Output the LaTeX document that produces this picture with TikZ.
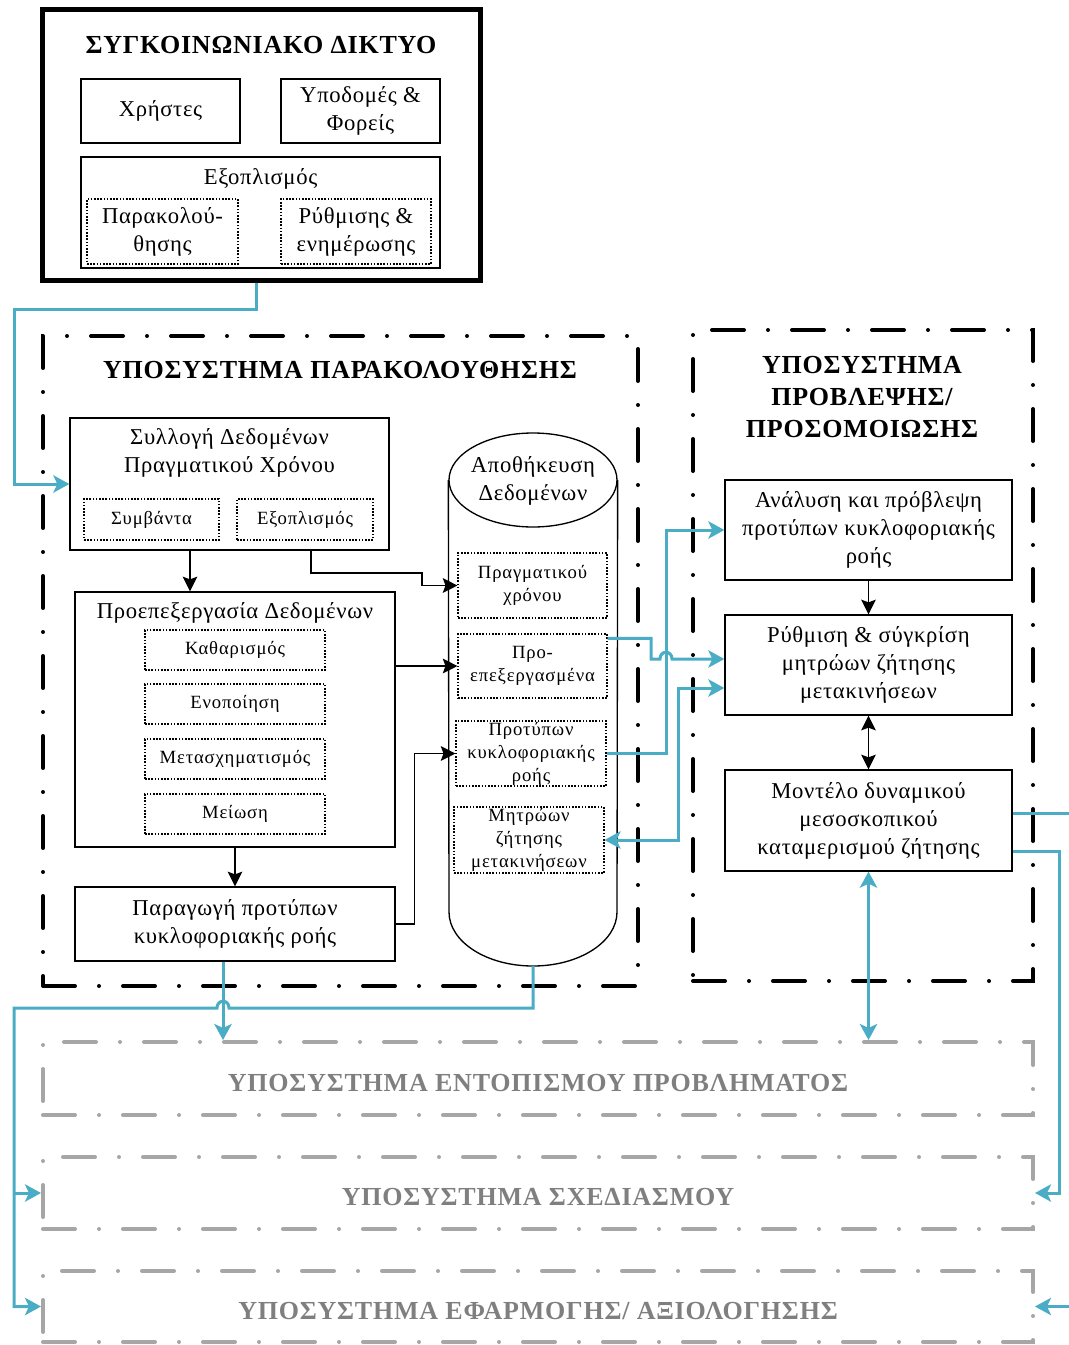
\documentclass[tikz,border=0pt]{standalone}
\usepackage{fontspec}
\setmainfont{Liberation Serif}[LetterSpace=3]
\newfontfamily\smallfam{Liberation Serif}[LetterSpace=4.5]
\usetikzlibrary{arrows.meta,shapes.geometric,calc}
\definecolor{linkblue}{HTML}{4BACC6}
\definecolor{framegray}{HTML}{A6A6A6}
\definecolor{textgray}{HTML}{7F7F7F}
\newcommand\mybody{\fontsize{17}{21}\selectfont}
\newcommand\mysmall{\smallfam\fontsize{14}{17.25}\selectfont}
\newcommand\mytitle{\fontsize{19.5}{24}\selectfont\bfseries}

\begin{document}
\begin{tikzpicture}[x=0.75pt,y=-0.75pt,
  box/.style={draw,line width=1pt,inner sep=0pt,font=\mybody,align=center},
  subbox/.style={draw,line width=0.8pt,dash pattern=on 1.2pt off 1.2pt,inner sep=0pt,font=\mysmall,align=center},
  bigsub/.style={subbox,font=\mybody},
  frame/.style={draw,line width=3pt,line cap=round,dash pattern=on 24pt off 18pt on 0pt off 18pt,inner sep=0pt},
  grayframe/.style={frame,draw=framegray,font=\mytitle,text=textgray},
  txt/.style={font=\mybody,align=center,inner sep=0pt},
  ttl/.style={font=\mytitle,align=center,inner sep=0pt},
  ar/.style={line width=1pt,-{Stealth[length=11pt,width=11pt,inset=2pt]}},
  bl/.style={draw=linkblue,line width=2.25pt},
  bltip/.tip={Stealth[length=12pt,width=13pt,inset=3pt]}
]
\useasboundingbox (0,0) rectangle (1069,1345);

% ---------- transport network ----------
\node[draw,line width=3.75pt,minimum width=328.5pt,minimum height=202.5pt] (net) at (261,145) {};
\node[ttl] (nettitle) at (261,45) {ΣΥΓΚΟΙΝΩΝΙΑΚΟ ΔΙΚΤΥΟ};
\node[box,minimum width=119.25pt,minimum height=48pt] (users) at (160.5,111) {Χρήστες};
\node[box,minimum width=119.25pt,minimum height=48pt] (infra) at (360.5,111) {Υποδομές \&\\Φορείς};
\node[box,minimum width=269.25pt,minimum height=83.25pt] (equip) at (260.5,212.5) {};
\node[txt] (equiptxt) at (260.5,179) {Εξοπλισμός};
\node[bigsub,minimum width=113.25pt,minimum height=48.75pt] (monit) at (162.5,231.5) {Παρακολού-\\θησης};
\node[bigsub,minimum width=112.5pt,minimum height=48.75pt] (regul) at (356,231.5) {Ρύθμισης \&\\ενημέρωσης};

% ---------- subsystem frames ----------
\node[frame,minimum width=446.25pt,minimum height=487.5pt] (monf) at (340.5,661) {};
\node[ttl] (montitle) at (340,370) {ΥΠΟΣΥΣΤΗΜΑ ΠΑΡΑΚΟΛΟΥΘΗΣΗΣ};
\node[frame,minimum width=255pt,minimum height=488.25pt] (predf) at (863,655.5) {};
\node[ttl] (predtitle) at (862,397) {ΥΠΟΣΥΣΤΗΜΑ\\ΠΡΟΒΛΕΨΗΣ/\\ΠΡΟΣΟΜΟΙΩΣΗΣ};

\node[grayframe,minimum width=742.5pt,minimum height=54.75pt] (g1) at (538,1078.5) {};
\node[ttl,text=textgray] (g1t) at (538,1083) {ΥΠΟΣΥΣΤΗΜΑ ΕΝΤΟΠΙΣΜΟΥ ΠΡΟΒΛΗΜΑΤΟΣ};
\node[grayframe,minimum width=742.5pt,minimum height=54pt] (g2) at (538,1193) {};
\node[ttl,text=textgray] (g2t) at (538,1197) {ΥΠΟΣΥΣΤΗΜΑ ΣΧΕΔΙΑΣΜΟΥ};
\node[grayframe,minimum width=742.5pt,minimum height=53.25pt] (g3) at (538,1306.5) {};
\node[ttl,text=textgray] (g3t) at (538,1311) {ΥΠΟΣΥΣΤΗΜΑ ΕΦΑΡΜΟΓΗΣ/ ΑΞΙΟΛΟΓΗΣΗΣ};

% ---------- monitoring subsystem ----------
\node[box,minimum width=239.25pt,minimum height=99pt] (coll) at (229.5,484) {};
\node[txt] (colltxt) at (229.5,453) {Συλλογή Δεδομένων\\Πραγματικού Χρόνου};
\node[subbox,minimum width=101.25pt,minimum height=30.75pt] (events) at (151.5,519.5) {Συμβάντα};
\node[subbox,minimum width=102pt,minimum height=30.75pt] (sensors) at (305,519.5) {Εξοπλισμός};

\node[box,minimum width=240pt,minimum height=191.25pt] (pre) at (235,719.5) {};
\node[txt] (pretxt) at (235,613) {Προεπεξεργασία Δεδομένων};
\node[subbox,minimum width=135pt,minimum height=30pt] (clean) at (235,650) {Καθαρισμός};
\node[subbox,minimum width=135pt,minimum height=30pt] (integ) at (235,704) {Ενοποίηση};
\node[subbox,minimum width=135pt,minimum height=30pt] (trans) at (235,759) {Μετασχηματισμός};
\node[subbox,minimum width=135pt,minimum height=30pt] (reduc) at (235,814) {Μείωση};

\node[box,minimum width=240pt,minimum height=55.5pt] (gen) at (235,924) {Παραγωγή προτύπων\\κυκλοφοριακής ροής};

% data store (cylinder)
\node[draw,ellipse,line width=1pt,minimum width=126pt,minimum height=70.5pt,inner sep=0pt] (store) at (533,480) {};
\node[txt] (storetxt) at (533,481) {Αποθήκευση\\Δεδομένων};
\draw[line width=1pt] (store.west) -- (449,912) .. controls (449,941.8) and (486.6,966) .. (533,966)
      .. controls (579.4,966) and (617,941.8) .. (617,912) -- (store.east);
\coordinate (storebot) at (533,966);

\node[subbox,minimum width=111.75pt,minimum height=48.75pt] (rt) at (532.5,585.5) {Πραγματικού\\χρόνου};
\node[subbox,minimum width=111.75pt,minimum height=48pt] (pp) at (532.5,666) {Προ-\\επεξεργασμένα};
\node[subbox,minimum width=112.5pt,minimum height=48.75pt] (pat) at (531,753.5) {Προτύπων\\κυκλοφοριακής\\ροής};
\node[subbox,minimum width=112.5pt,minimum height=49.5pt] (mat) at (529,840) {Μητρώων\\ζήτησης\\μετακινήσεων};

% ---------- prediction subsystem ----------
\node[box,minimum width=215.25pt,minimum height=75pt] (anal) at (868.5,530) {Ανάλυση και πρόβλεψη\\προτύπων κυκλοφοριακής\\ροής};
\node[box,minimum width=215.25pt,minimum height=75pt] (calib) at (868.5,665) {Ρύθμιση \& σύγκρίση\\μητρώων ζήτησης\\μετακινήσεων};
\node[box,minimum width=215.25pt,minimum height=75.75pt] (model) at (868.5,820.5) {Μοντέλο δυναμικού\\μεσοσκοπικού\\καταμερισμού ζήτησης};

% ---------- black connectors ----------
\coordinate (xa) at (190,0);
\coordinate (xb) at (311,0);
\draw[ar] (coll.south -| xa) -- (pre.north -| xa);
\draw[ar] (coll.south -| xb) |- (422,573) |- (rt.west);
\draw[ar] (pre.east |- pp.west) -- (pp.west);
\draw[ar] (gen.east) -| ($(pat.west)+(-41,0)$) -- (pat.west);
\draw[ar] (pre.south) -- (gen.north);
\draw[ar] (anal.south) -- (calib.north);
\draw[line width=1pt,{Stealth[length=11pt,width=11pt,inset=2pt]}-{Stealth[length=11pt,width=11pt,inset=2pt]}] (calib.south) -- (model.north);

% ---------- blue connectors ----------
\coordinate (xc) at (223,0);
\coordinate (yh) at (0,659);
\coordinate (yk) at (0,688);
\coordinate (ym) at (0,813);
\coordinate (yn) at (0,851);
\coordinate (outR) at (1069,813);
\coordinate (inR) at (1069,1306.5);

\draw[bl,-bltip] ($(net.south)+(-5,0)$) -- ++(0,27) -| (14,484) -- (coll.west);
\draw[bl,-bltip] ($(pp.north east)+(0,5)$) -| (651,659) -- (660,659)
      .. controls (660,650) and (672,650) .. (672,659) -- (calib.west |- yh);
\draw[bl,-bltip] (pat.east) -| (666,530) -- (anal.west);
\draw[bl,bltip-bltip] (calib.west |- yk) -| (678,840) -- (mat.east);

\draw[bl,-bltip] (storebot) -- (533,1008) -- (229,1008) .. controls (229,999) and (217,999) .. (217,1008)
      -- (14,1008) |- (g3.west);
\draw[bl,-bltip] (14,1193) -- (g2.west);
\draw[bl,-bltip] (gen.south -| xc) -- (g1.north -| xc);
\draw[bl,bltip-bltip] (model.south) -- (g1.north -| model.south);
\draw[bl] (model.east |- ym) -- (outR);
\draw[bl,-bltip] (model.east |- yn) -| ($(g2.east)+(24,0)$) -- (g2.east);
\draw[bl,-bltip] (inR) -- (g3.east);
\end{tikzpicture}
\end{document}
